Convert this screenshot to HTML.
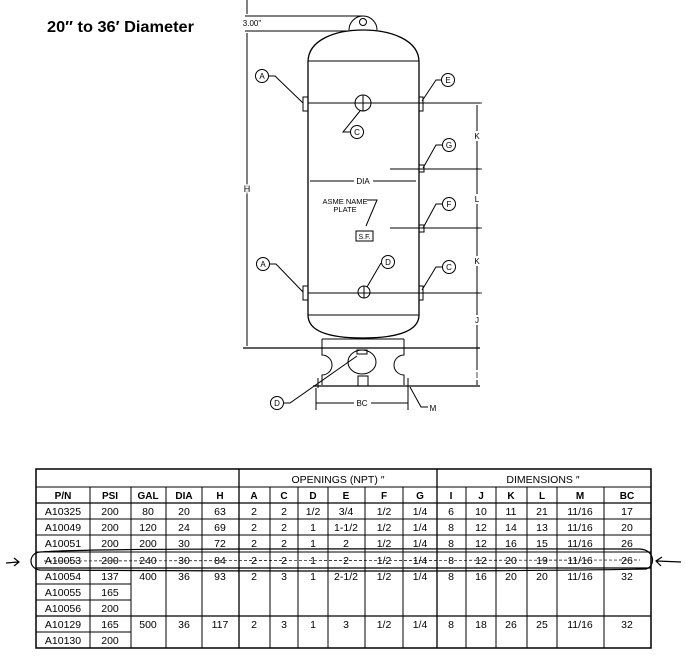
<!DOCTYPE html>
<html><head><meta charset="utf-8"><style>
html,body{margin:0;padding:0;background:#fff;}
svg{display:block;font-family:"Liberation Sans",sans-serif;}
</style></head><body>
<svg width="685" height="657" viewBox="0 0 685 657" xmlns="http://www.w3.org/2000/svg">
<text x="47" y="32" font-size="16" font-weight="bold" textLength="147" lengthAdjust="spacingAndGlyphs">20″ to 36′ Diameter</text>

<g stroke="#000" fill="none" stroke-width="1">
<!-- lug and top dims -->
<line x1="245" y1="16" x2="363" y2="16"/>
<line x1="245" y1="31" x2="350" y2="31"/>
<line x1="247" y1="0" x2="247" y2="14"/>
<path d="M349,30 A14,14 0 0 1 377,30" fill="#fff"/>
<circle cx="363" cy="22" r="3.5"/>
<!-- tank -->
<path d="M308,62 C308,40 335,30 363,30 C391,30 419,40 419,62 L419,315 C419,330 400,338 363,338 C326,338 308,330 308,315 Z" stroke-width="1.3"/>
<line x1="308" y1="61" x2="419" y2="61"/>
<line x1="308" y1="315" x2="419" y2="315"/>
<!-- H dim -->
<line x1="247" y1="33" x2="247" y2="346"/>
<line x1="243" y1="348" x2="480" y2="348" stroke-width="1.2"/>
<!-- skirt -->
<path d="M322,339 L322,355 A10,10 0 0 1 322,375 L322,385 M404,339 L404,355 A10,10 0 0 0 404,375 L404,385"/>
<line x1="322" y1="339" x2="404" y2="339"/>
<line x1="313" y1="386" x2="480" y2="386" stroke-width="1.2"/>
<ellipse cx="362" cy="362" rx="14" ry="12"/>
<rect x="358" y="376" width="10" height="10"/>
<rect x="357" y="350" width="10" height="4"/>
<line x1="318" y1="378" x2="318" y2="388"/>
<line x1="408" y1="378" x2="408" y2="388"/>
<!-- horizontal reference lines -->
<line x1="308" y1="103" x2="480" y2="103"/>
<line x1="390" y1="169" x2="480" y2="169"/>
<line x1="390" y1="228" x2="480" y2="228"/>
<line x1="308" y1="293" x2="480" y2="293"/>
<!-- fittings -->
<rect x="303" y="97" width="5" height="14"/>
<rect x="303" y="286" width="5" height="14"/>
<rect x="419" y="97" width="4" height="14"/>
<rect x="419" y="165" width="5" height="7"/>
<rect x="419" y="225" width="5" height="7"/>
<rect x="419" y="286" width="4" height="14"/>
<circle cx="363" cy="103" r="8"/>
<line x1="363" y1="95" x2="363" y2="111"/>
<circle cx="364" cy="292" r="6"/>
<line x1="364" y1="286" x2="364" y2="298"/>
<!-- DIA -->
<line x1="310" y1="181" x2="355" y2="181"/>
<line x1="373" y1="181" x2="416" y2="181"/>
<!-- callouts -->
<circle cx="262" cy="76" r="6.5"/><path d="M269,76 L275,76 L303,103"/>
<circle cx="263" cy="264" r="6.5"/><path d="M270,264 L276,264 L303,292"/>
<circle cx="357" cy="132" r="6.5"/><path d="M350,132 L343,132 L360,111"/>
<circle cx="448" cy="80" r="6.5"/><path d="M441,80 L436,80 L422,101"/>
<circle cx="449" cy="145" r="6.5"/><path d="M442,145 L436,145 L423,168"/>
<circle cx="449" cy="204" r="6.5"/><path d="M442,204 L436,204 L423,228"/>
<circle cx="449" cy="267" r="6.5"/><path d="M442,267 L436,267 L422,290"/>
<circle cx="388" cy="262" r="6.5"/><path d="M381,263 L367,287"/>
<path d="M367,200 L377,200 L366,226"/>
<rect x="356" y="231" width="17" height="10"/>
<circle cx="277" cy="403" r="6.5"/><path d="M284,403 L290,403 L357,356"/>
<path d="M410,387 L421,407 L428,407"/>
<!-- right dims -->
<line x1="477" y1="105" x2="477" y2="385"/>
<g stroke-width="0.8">
<line x1="472" y1="103" x2="482" y2="103"/><line x1="472" y1="169" x2="482" y2="169"/>
<line x1="472" y1="228" x2="482" y2="228"/><line x1="472" y1="293" x2="482" y2="293"/>
</g>
<!-- BC -->
<line x1="316" y1="388" x2="316" y2="410"/><line x1="408" y1="388" x2="408" y2="410"/>
<line x1="316" y1="403" x2="354" y2="403"/><line x1="371" y1="403" x2="408" y2="403"/>
</g>
<rect x="354" y="175" width="19" height="12" fill="#fff"/>
<g font-size="8" text-anchor="middle">
<text x="252" y="26" font-size="8">3.00"</text>
<text x="247" y="192" font-size="9" fill="#000" stroke="#fff" stroke-width="3" paint-order="stroke">H</text>
<text x="363" y="184">DIA</text>
<text x="345" y="204" font-size="7.5">ASME NAME</text>
<text x="345" y="212" font-size="7.5">PLATE</text>
<text x="364.5" y="239" font-size="7">S.F.</text>
<text x="262" y="79">A</text><text x="263" y="267">A</text>
<text x="357" y="135">C</text><text x="448" y="83">E</text>
<text x="449" y="148">G</text><text x="449" y="207">F</text>
<text x="449" y="270">C</text><text x="388" y="265">D</text>
<text x="277" y="406">D</text>
<text x="362" y="406">BC</text>
<text x="433" y="411">M</text>
<g fill="#000" stroke="#fff" stroke-width="4" paint-order="stroke">
<text x="477" y="139">K</text><text x="477" y="202">L</text>
<text x="477" y="264">K</text><text x="477" y="323">J</text>
<text x="477" y="378">I</text>
</g>
</g>

<!-- TABLE -->
<g stroke="#000" fill="none">
<rect x="36" y="469" width="615" height="179" stroke-width="1.5"/>
<line x1="36" y1="487" x2="651" y2="487"/>
<line x1="36" y1="503" x2="651" y2="503" stroke-width="1.3"/>
<line x1="36" y1="519" x2="651" y2="519"/>
<line x1="36" y1="535" x2="651" y2="535"/>
<line x1="36" y1="552" x2="651" y2="552"/>
<line x1="36" y1="568" x2="651" y2="568" stroke-width="1.3"/>
<line x1="36" y1="584" x2="131" y2="584"/>
<line x1="36" y1="600" x2="131" y2="600"/>
<line x1="36" y1="616" x2="651" y2="616" stroke-width="1.3"/>
<line x1="36" y1="632" x2="131" y2="632"/>
<g stroke-width="1">
<line x1="239" y1="469" x2="239" y2="648" stroke-width="1.3"/>
<line x1="437" y1="469" x2="437" y2="648" stroke-width="1.3"/>
<line x1="90" y1="487" x2="90" y2="648"/>
<line x1="131" y1="487" x2="131" y2="648"/>
<line x1="166" y1="487" x2="166" y2="648"/>
<line x1="202" y1="487" x2="202" y2="648"/>
<line x1="270" y1="487" x2="270" y2="648"/>
<line x1="298" y1="487" x2="298" y2="648"/>
<line x1="328" y1="487" x2="328" y2="648"/>
<line x1="365" y1="487" x2="365" y2="648"/>
<line x1="403" y1="487" x2="403" y2="648"/>
<line x1="466" y1="487" x2="466" y2="648"/>
<line x1="496" y1="487" x2="496" y2="648"/>
<line x1="527" y1="487" x2="527" y2="648"/>
<line x1="557" y1="487" x2="557" y2="648"/>
<line x1="604" y1="487" x2="604" y2="648"/>
</g>
</g>
<g font-size="10.5" text-anchor="middle">
<text x="338" y="483">OPENINGS (NPT) ″</text>
<text x="543" y="483">DIMENSIONS ″</text>
<g font-weight="bold" font-size="10">
<text x="63" y="499">P/N</text><text x="110" y="499">PSI</text><text x="148" y="499">GAL</text><text x="184" y="499">DIA</text><text x="220" y="499">H</text>
<text x="254" y="499">A</text><text x="284" y="499">C</text><text x="313" y="499">D</text><text x="346" y="499">E</text><text x="384" y="499">F</text><text x="420" y="499">G</text>
<text x="451" y="499">I</text><text x="481" y="499">J</text><text x="511" y="499">K</text><text x="542" y="499">L</text><text x="580" y="499">M</text><text x="627" y="499">BC</text>
</g>
</g>
<g font-size="10.5" text-anchor="middle">
<g id="r1"><text x="63" y="515">A10325</text><text x="110" y="515">200</text><text x="148" y="515">80</text><text x="184" y="515">20</text><text x="220" y="515">63</text><text x="254" y="515">2</text><text x="284" y="515">2</text><text x="313" y="515">1/2</text><text x="346" y="515">3/4</text><text x="384" y="515">1/2</text><text x="420" y="515">1/4</text><text x="451" y="515">6</text><text x="481" y="515">10</text><text x="511" y="515">11</text><text x="542" y="515">21</text><text x="580" y="515">11/16</text><text x="627" y="515">17</text></g>
<g><text x="63" y="531">A10049</text><text x="110" y="531">200</text><text x="148" y="531">120</text><text x="184" y="531">24</text><text x="220" y="531">69</text><text x="254" y="531">2</text><text x="284" y="531">2</text><text x="313" y="531">1</text><text x="346" y="531">1-1/2</text><text x="384" y="531">1/2</text><text x="420" y="531">1/4</text><text x="451" y="531">8</text><text x="481" y="531">12</text><text x="511" y="531">14</text><text x="542" y="531">13</text><text x="580" y="531">11/16</text><text x="627" y="531">20</text></g>
<g><text x="63" y="547">A10051</text><text x="110" y="547">200</text><text x="148" y="547">200</text><text x="184" y="547">30</text><text x="220" y="547">72</text><text x="254" y="547">2</text><text x="284" y="547">2</text><text x="313" y="547">1</text><text x="346" y="547">2</text><text x="384" y="547">1/2</text><text x="420" y="547">1/4</text><text x="451" y="547">8</text><text x="481" y="547">12</text><text x="511" y="547">16</text><text x="542" y="547">15</text><text x="580" y="547">11/16</text><text x="627" y="547">26</text></g>
<g><text x="63" y="564">A10053</text><text x="110" y="564">200</text><text x="148" y="564">240</text><text x="184" y="564">30</text><text x="220" y="564">84</text><text x="254" y="564">2</text><text x="284" y="564">2</text><text x="313" y="564">1</text><text x="346" y="564">2</text><text x="384" y="564">1/2</text><text x="420" y="564">1/4</text><text x="451" y="564">8</text><text x="481" y="564">12</text><text x="511" y="564">20</text><text x="542" y="564">19</text><text x="580" y="564">11/16</text><text x="627" y="564">26</text></g>
<g><text x="63" y="580">A10054</text><text x="110" y="580">137</text><text x="148" y="580">400</text><text x="184" y="580">36</text><text x="220" y="580">93</text><text x="254" y="580">2</text><text x="284" y="580">3</text><text x="313" y="580">1</text><text x="346" y="580">2-1/2</text><text x="384" y="580">1/2</text><text x="420" y="580">1/4</text><text x="451" y="580">8</text><text x="481" y="580">16</text><text x="511" y="580">20</text><text x="542" y="580">20</text><text x="580" y="580">11/16</text><text x="627" y="580">32</text></g>
<text x="63" y="596">A10055</text><text x="110" y="596">165</text>
<text x="63" y="612">A10056</text><text x="110" y="612">200</text>
<g><text x="63" y="628">A10129</text><text x="110" y="628">165</text><text x="148" y="628">500</text><text x="184" y="628">36</text><text x="220" y="628">117</text><text x="254" y="628">2</text><text x="284" y="628">3</text><text x="313" y="628">1</text><text x="346" y="628">3</text><text x="384" y="628">1/2</text><text x="420" y="628">1/4</text><text x="451" y="628">8</text><text x="481" y="628">18</text><text x="511" y="628">26</text><text x="542" y="628">25</text><text x="580" y="628">11/16</text><text x="627" y="628">32</text></g>
<text x="63" y="644">A10130</text><text x="110" y="644">200</text>
</g>
<!-- hand annotation -->
<g stroke="#000" fill="none" stroke-width="1.2">
<path d="M40,552 C90,548 300,549 640,549 C655,550 656,566 646,569 C500,572 200,571 40,570 C28,569 28,553 40,552 Z"/>
<path d="M44,561 L640,560" stroke-dasharray="3,2" stroke-width="0.7"/>
<path d="M6,563 L18,562 M14,558 L19,562 L14,566"/>
<path d="M681,562 L657,561 M662,557 L656,561 L661,566"/>
</g>
</svg>
</body></html>
